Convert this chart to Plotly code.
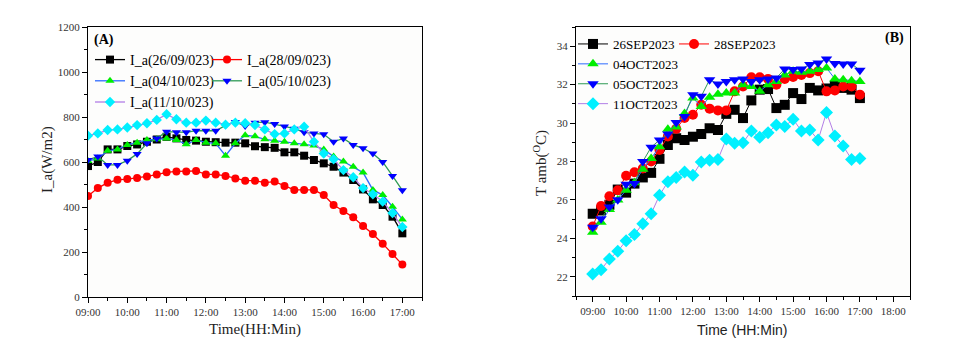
import plotly.graph_objects as go

times = ["09:00", "09:15", "09:30", "09:45", "10:00", "10:15", "10:30", "10:45",
         "11:00", "11:15", "11:30", "11:45", "12:00", "12:15", "12:30", "12:45",
         "13:00", "13:15", "13:30", "13:45", "14:00", "14:15", "14:30", "14:45",
         "15:00", "15:15", "15:30", "15:45", "16:00", "16:15", "16:30", "16:45", "17:00"]

# Panel A: solar irradiance I_a (W/m2)
ia_26sep = [582, 600, 656, 656, 671, 678, 690, 700, 712, 705, 698, 695, 690, 688, 686, 686, 683,
            670, 666, 663, 643, 643, 628, 609, 594, 579, 553, 520, 478, 434, 409, 357, 283]
ia_28sep = [449, 484, 508, 521, 524, 529, 536, 544, 554, 558, 558, 560, 545, 545, 538, 527, 517,
            517, 508, 513, 493, 476, 476, 476, 453, 409, 382, 354, 316, 280, 237, 191, 144]
ia_04oct = [604, 616, 650, 656, 676, 686, 698, 701, 704, 698, 679, 698, 686, 683, 628, 683, 719,
            714, 701, 695, 690, 683, 679, 673, 656, 624, 602, 579, 553, 476, 453, 401, 345]
ia_05oct = [609, 624, 587, 587, 606, 636, 683, 705, 735, 732, 732, 739, 739, 739, 763, 778, 760,
            775, 777, 769, 758, 748, 732, 727, 723, 690, 705, 676, 661, 638, 600, 538, 474]
ia_11oct = [717, 727, 742, 745, 753, 764, 772, 787, 812, 790, 775, 775, 784, 775, 766, 775, 772,
            764, 745, 724, 727, 745, 757, 690, 638, 612, 564, 532, 484, 457, 424, 373, 311]

# Panel B: ambient temperature T_amb (degC)
tamb_26sep = [25.28, 25.45, 25.75, 26.54, 26.38, 26.85, 27.17, 27.41, 28.14, 28.86, 29.21, 29.12,
              29.29, 29.43, 29.73, 29.64, 30.48, 30.69, 30.26, 31.18, 31.74, 31.77, 30.78, 30.95,
              31.56, 31.25, 31.83, 31.70, 31.80, 31.95, 31.83, 31.74, 31.30]
tamb_28sep = [24.62, 25.68, 26.19, 26.50, 27.26, 27.44, 27.64, 28.00, 28.60, 29.30, 29.70, 30.26,
              30.43, 30.95, 30.75, 30.66, 30.66, 31.65, 31.90, 32.38, 32.38, 32.30, 32.00, 32.30,
              32.40, 32.50, 32.60, 32.70, 31.65, 31.70, 31.90, 31.90, 31.48]
tamb_04oct = [24.32, 24.84, 25.50, 26.00, 26.50, 26.90, 27.60, 28.16, 28.77, 29.68, 29.80, 30.50,
              31.30, 30.86, 31.35, 31.50, 31.56, 31.56, 32.00, 31.90, 31.65, 32.00, 32.17, 32.50,
              32.70, 32.65, 32.70, 32.79, 32.87, 32.30, 32.26, 32.20, 32.17]
tamb_05oct = [24.58, 25.02, 25.63, 26.01, 26.82, 26.85, 28.00, 28.74, 29.12, 29.43, 30.03, 30.34,
              31.48, 31.39, 32.26, 32.03, 32.17, 32.26, 32.30, 32.17, 32.26, 32.30, 32.35, 32.82,
              32.79, 32.82, 33.05, 33.13, 33.34, 33.10, 33.08, 33.08, 32.75]
tamb_11oct = [22.14, 22.37, 22.92, 23.33, 23.88, 24.20, 24.76, 25.28, 26.24, 26.94, 27.17, 27.46,
              27.29, 27.98, 28.07, 28.11, 29.17, 28.95, 28.98, 29.59, 29.26, 29.50, 29.90, 29.82,
              30.20, 29.59, 29.64, 29.12, 30.55, 29.33, 28.81, 28.11, 28.16]

labels_a = ["I_a(26/09/023)", "I_a(28/09/023)", "I_a(04/10/023)", "I_a(05/10/023)", "I_a(11/10/023)"]
labels_b = ["26SEP2023", "28SEP2023", "04OCT2023", "05OCT2023", "11OCT2023"]

x = ["2023-10-01 " + t + ":00" for t in times]

SERIF = "Liberation Serif"
styles = [
    dict(line="#000000", marker="#000000", symbol="square"),
    dict(line="#ff0000", marker="#ff0000", symbol="circle"),
    dict(line="#2f6bff", marker="#00ee00", symbol="triangle-up"),
    dict(line="#2e9a55", marker="#0000ff", symbol="triangle-down"),
    dict(line="#b27ee6", marker="#00f0ff", symbol="diamond"),
]

fig = go.Figure()

series_a = [ia_26sep, ia_28sep, ia_04oct, ia_05oct, ia_11oct]
legends_a = ["legend", "legend2", "legend", "legend2", "legend"]
for vals, name, st, lg in zip(series_a, labels_a, styles, legends_a):
    fig.add_trace(go.Scatter(
        x=x, y=vals, name=name, mode="lines+markers", xaxis="x", yaxis="y", legend=lg,
        line=dict(color=st["line"], width=1.3),
        marker=dict(color=st["marker"], symbol=st["symbol"], size=8, line=dict(width=0)),
    ))

series_b = [tamb_26sep, tamb_28sep, tamb_04oct, tamb_05oct, tamb_11oct]
legends_b = ["legend3", "legend4", "legend3", "legend3", "legend3"]
for vals, name, st, lg in zip(series_b, labels_b, styles, legends_b):
    fig.add_trace(go.Scatter(
        x=x, y=vals, name=name, mode="lines+markers", xaxis="x2", yaxis="y2", legend=lg,
        line=dict(color=st["line"], width=1),
        marker=dict(color=st["marker"], symbol=st["symbol"], size=10, line=dict(width=0)),
    ))

W, H = 968, 357
OFF = 8  # page body margin offset of the plot div


def px(v):
    return (v - OFF) / W


def py(v):
    return (H - (v - OFF)) / H


tickfont = dict(family=SERIF, size=11, color="#333333")
common_x = dict(
    type="date", tickformat="%H:%M", dtick=3600000, showgrid=False, zeroline=False,
    showline=True, linecolor="#000000", linewidth=1, mirror=True, automargin=False,
    ticks="outside", ticklen=5, tickcolor="#000000", tickfont=tickfont,
    minor=dict(dtick=1800000, ticks="outside", ticklen=3, tickcolor="#000000", showgrid=False),
)
common_y = dict(
    showgrid=False, zeroline=False, showline=True, linecolor="#000000", linewidth=1,
    mirror=True, ticks="outside", ticklen=5, tickcolor="#000000", tickfont=tickfont,
    automargin=False,
)

fig.update_layout(
    width=W, height=H, autosize=False,
    margin=dict(l=0, r=0, t=0, b=0, pad=0, autoexpand=False),
    paper_bgcolor="#ffffff", plot_bgcolor="#fdfdfc",
    showlegend=True,
    xaxis=dict(common_x, domain=[px(88), px(422)], anchor="y",
               range=["2023-10-01 09:00:00", "2023-10-01 17:30:00"]),
    yaxis=dict(common_y, domain=[py(297), py(27)], anchor="x", range=[0, 1200], dtick=200,
               minor=dict(dtick=100, ticks="outside", ticklen=3, tickcolor="#000000", showgrid=False)),
    xaxis2=dict(common_x, domain=[px(576), px(910)], anchor="y2",
                range=["2023-10-01 08:30:00", "2023-10-01 18:30:00"]),
    yaxis2=dict(common_y, domain=[py(296), py(27)], anchor="x2", range=[21, 35], dtick=2,
                minor=dict(dtick=1, ticks="outside", ticklen=3, tickcolor="#000000", showgrid=False)),
    legend=dict(x=px(90), y=py(44), xanchor="left", yanchor="top", bgcolor="rgba(0,0,0,0)",
                font=dict(family=SERIF, size=14, color="#000000"), tracegroupgap=0),
    legend2=dict(x=px(207), y=py(44), xanchor="left", yanchor="top", bgcolor="rgba(0,0,0,0)",
                 font=dict(family=SERIF, size=14, color="#000000"), tracegroupgap=0),
    legend3=dict(x=px(573), y=py(29), xanchor="left", yanchor="top", bgcolor="rgba(0,0,0,0)",
                 font=dict(family=SERIF, size=13, color="#000000"), tracegroupgap=0),
    legend4=dict(x=px(674), y=py(29), xanchor="left", yanchor="top", bgcolor="rgba(0,0,0,0)",
                 font=dict(family=SERIF, size=13, color="#000000"), tracegroupgap=0),
    annotations=[
        dict(text="<b>(A)</b>", x=px(92), y=py(40), xref="paper", yref="paper",
             xanchor="left", yanchor="middle", showarrow=False,
             font=dict(family=SERIF, size=14, color="#000000")),
        dict(text="<b>(B)</b>", x=px(906), y=py(38), xref="paper", yref="paper",
             xanchor="right", yanchor="middle", showarrow=False,
             font=dict(family=SERIF, size=14, color="#000000")),
        dict(text="Time(HH:Min)", x=px(255), y=py(329), xref="paper", yref="paper",
             xanchor="center", yanchor="middle", showarrow=False,
             font=dict(family=SERIF, size=15, color="#222222")),
        dict(text="I_a(W/m2)", x=px(47), y=py(160), xref="paper", yref="paper",
             xanchor="center", yanchor="middle", showarrow=False, textangle=-90,
             font=dict(family=SERIF, size=15, color="#222222")),
        dict(text="Time (HH:Min)", x=px(742), y=py(330), xref="paper", yref="paper",
             xanchor="center", yanchor="middle", showarrow=False,
             font=dict(family="Liberation Sans", size=14, color="#222222")),
        dict(text="T amb(<sup>O</sup>C)", x=px(540), y=py(163), xref="paper", yref="paper",
             xanchor="center", yanchor="middle", showarrow=False, textangle=-90,
             font=dict(family=SERIF, size=15, color="#222222")),
    ],
)

fig.write_html("out.html")
